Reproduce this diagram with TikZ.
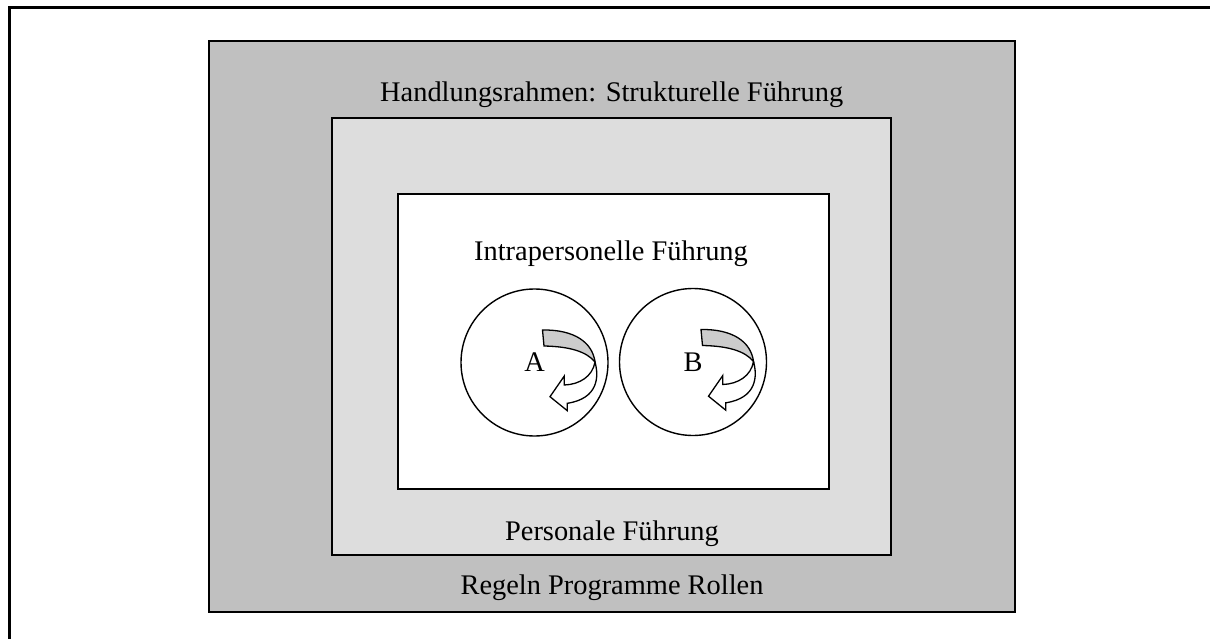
\documentclass[tikz,border=0pt]{standalone}
\usepackage{fontspec}
\setmainfont{Liberation Serif}
\definecolor{rahmengrau}{HTML}{C0C0C0}
\definecolor{personalgrau}{HTML}{DDDDDD}
\definecolor{bandgrau}{HTML}{CCCCCC}
\newcommand{\person}[3]{%
 \node[person] ({#1}) at ({#2}) {#3};%
 \begin{scope}[shift={(#2)}]%
  \draw [band] (8,-32.5) .. controls (40,-33) and (58,-20) .. (60.5,-0.5) .. controls (52,-11) and (35,-16) .. (9.5,-16.5) -- cycle;%
  \draw [twist] (60.5,-0.5) .. controls (64.5,14) and (64,36) .. (32.8,40.8) -- (32.8,48.2) -- (15.5,34.2) -- (29.8,13.5) -- (29.8,22.5) .. controls (45,22) and (58,14) .. (60.5,-0.5) -- cycle;%
 \end{scope}%
}

\begin{document}
\begin{tikzpicture}[x=1pt,y=-1pt,
  every node/.style={font=\fontsize{28.4}{34}\selectfont},
  kasten/.style={draw=black,line width=2pt,inner sep=0pt},
  person/.style={draw=black,line width=1.4pt,circle,minimum size=147pt,inner sep=0pt,fill=white},
  band/.style={black,line width=1.3pt,fill=bandgrau},
  twist/.style={black,line width=1.3pt,fill=white},
  titel/.style={anchor=base}]
   \useasboundingbox (0,0) rectangle (1210,639);
   \draw[line width=3pt] (9.5,639) -- (9.5,7.5) -- (1210,7.5);
   \node[kasten,fill=rahmengrau,minimum width=806pt,minimum height=571pt] (rahmen) at (611.5,326.5) {};
   \node[kasten,fill=personalgrau,minimum width=559pt,minimum height=436.5pt] (personal) at (611.5,336.75) {};
   \node[kasten,fill=white,minimum width=430.5pt,minimum height=294.5pt] (intra) at (613.25,341.25) {};
   \node[titel] (struktur) at (611.7,101.5) {Handlungsrahmen: Strukturelle Führung};
   \node[titel] (intratext) at (611,261) {Intrapersonelle Führung};
   \node[titel] (personaltext) at (612,540) {Personale Führung};
   \node[titel] (regeln) at (612,594) {Regeln Programme Rollen};
   \person{pA}{534.5,362.5}{A};
   \person{pB}{693,362}{B};
\end{tikzpicture}
\end{document}
